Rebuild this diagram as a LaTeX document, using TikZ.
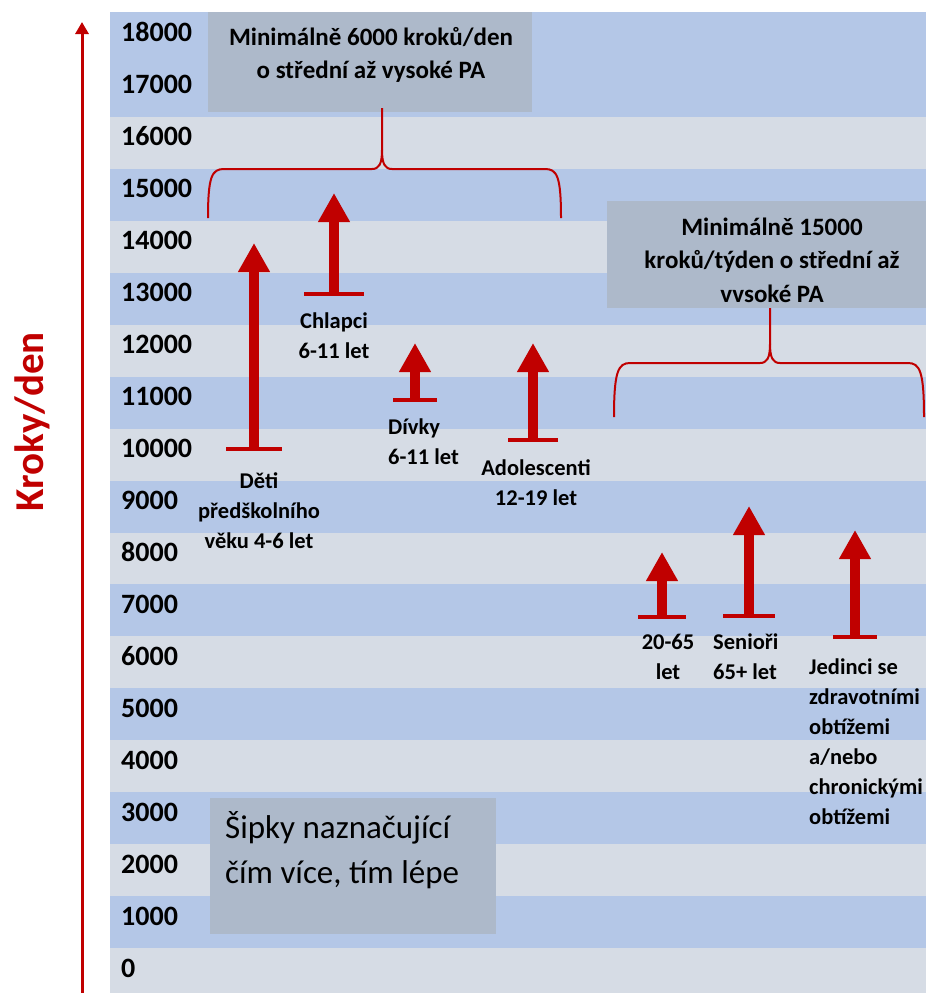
\documentclass[tikz,border=0pt]{standalone}
\usepackage{fontspec}
\setmainfont{Carlito}
\usetikzlibrary{arrows.meta}
\definecolor{stripeblue}{HTML}{B4C7E7}
\definecolor{stripegray}{HTML}{D6DCE5}
\definecolor{boxgray}{HTML}{ADB9CA}
\definecolor{dred}{HTML}{C00000}
\tikzset{
  bigarrow/.style={draw=dred, line width=10pt, -{Triangle[width=30pt,length=29pt]}},
  tbar/.style={draw=dred, line width=4.5pt},
  bracestyle/.style={draw=dred, line width=2pt},
  axisarrow/.style={draw=dred, line width=3pt, -{Triangle[width=13pt,length=12pt]}},
  lbl/.style={font=\fontsize{22.5}{30}\selectfont\bfseries, inner sep=0pt},
  num/.style={font=\fontsize{28}{30}\selectfont\bfseries, anchor=west, inner sep=0pt},
  boxtxt/.style={font=\fontsize{25}{33.5}\selectfont\bfseries, inner sep=0pt, align=center},
  panel/.style={fill=boxgray, anchor=north west, inner sep=0pt}
}
\begin{document}
\begin{tikzpicture}[x=1pt,y=-1pt]
\useasboundingbox (0,0) rectangle (926,993);
% stripes
\fill[stripegray] (110,12) rectangle (926,993);
\fill[stripeblue] (110,12) rectangle (926,117);
\foreach \k in {1,3,...,15}{
  \fill[stripeblue] (110,{117+51.94*\k}) rectangle (926,{117+51.94*(\k+1)});
}
% numbers
\foreach \v [count=\i from 0] in {0,1000,2000,3000,4000,5000,6000,7000,8000,9000,10000,11000,12000,13000,14000,15000,16000,17000,18000}{
  \node[num] (n\i) at (121,{968-52*\i}) {\v};
}
% axis
\coordinate (axb) at (82,993);
\coordinate (axt) at (82,22);
\draw[axisarrow] (axb) -- (axt);
\node[rotate=90, font=\fontsize{41}{41}\selectfont\bfseries, text=dred, inner sep=0pt] (ylab) at (32,422) {Kroky/den};
% panels
\node[panel, minimum width=324pt, minimum height=100pt] (box1) at (208,12) {};
\node[boxtxt] (box1t) at (371,55) {Minimálně 6000 kroků/den\\o střední až vysoké PA};
\node[panel, minimum width=319pt, minimum height=107pt] (box2) at (607,201) {};
\node[boxtxt] (box2t) at (772,260) {Minimálně 15000\\kroků/týden o střední až\\vvsoké PA};
\node[panel, minimum width=286pt, minimum height=136pt] (box3) at (210,798) {};
\node[font=\fontsize{33}{45}\selectfont, inner sep=0pt, align=left, anchor=west] (box3t) at (225,850) {Šipky naznačující\\čím více, tím lépe};
% braces
\coordinate (b1l) at (208,218);
\coordinate (b1r) at (561,218);
\coordinate (b1c) at (382,108);
\draw[bracestyle] (b1l) .. controls (208,176) and (212,169) .. (224,169) -- (372,169) .. controls (379,169) and (382,164) .. (382,150) -- (b1c);
\draw[bracestyle] (382,150) .. controls (382,164) and (385,169) .. (392,169) -- (545,169) .. controls (557,169) and (561,176) .. (b1r);
\coordinate (b2l) at (614,417);
\coordinate (b2r) at (924,417);
\coordinate (b2c) at (770,308);
\draw[bracestyle] (b2l) .. controls (614,372) and (618,363) .. (630,363) -- (760,363) .. controls (767,363) and (770,358) .. (770,344) -- (b2c);
\draw[bracestyle] (770,344) .. controls (770,358) and (773,363) .. (780,363) -- (908,363) .. controls (920,363) and (924,372) .. (b2r);
% arrows
\foreach \nm/\x/\yb/\yt/\hw in {a1/254/449/243/28, a2/334/294/193/30, a3/415/400/343/22, a4/533/440/343/25, a5/662/617/552/24, a6/749/616/506/26, a7/855/637/530/22}{
  \coordinate (\nm b) at (\x,\yb);
  \coordinate (\nm t) at (\x,\yt);
  \draw[bigarrow] (\nm b) -- (\nm t);
  \draw[tbar] ([xshift=-\hw pt]\nm b) -- ([xshift=\hw pt]\nm b);
}
% labels
\node[lbl, align=center] (l1) at (259,511) {Děti\\předškolního\\věku 4-6 let};
\node[lbl, align=center] (l2) at (334,336) {Chlapci\\6-11 let};
\node[lbl, align=left, anchor=west] (l3) at (388,442) {Dívky\\6-11 let};
\node[lbl, align=center] (l4) at (536,483) {Adolescenti\\12-19 let};
\node[lbl, align=center] (l5) at (668,657) {20-65\\let};
\node[lbl, align=left, anchor=west] (l6) at (713,657) {Senioři\\65+ let};
\node[lbl, align=left, anchor=west] (l7) at (809,742) {Jedinci se\\zdravotními\\obtížemi\\a/nebo\\chronickými\\obtížemi};
\end{tikzpicture}
\end{document}
